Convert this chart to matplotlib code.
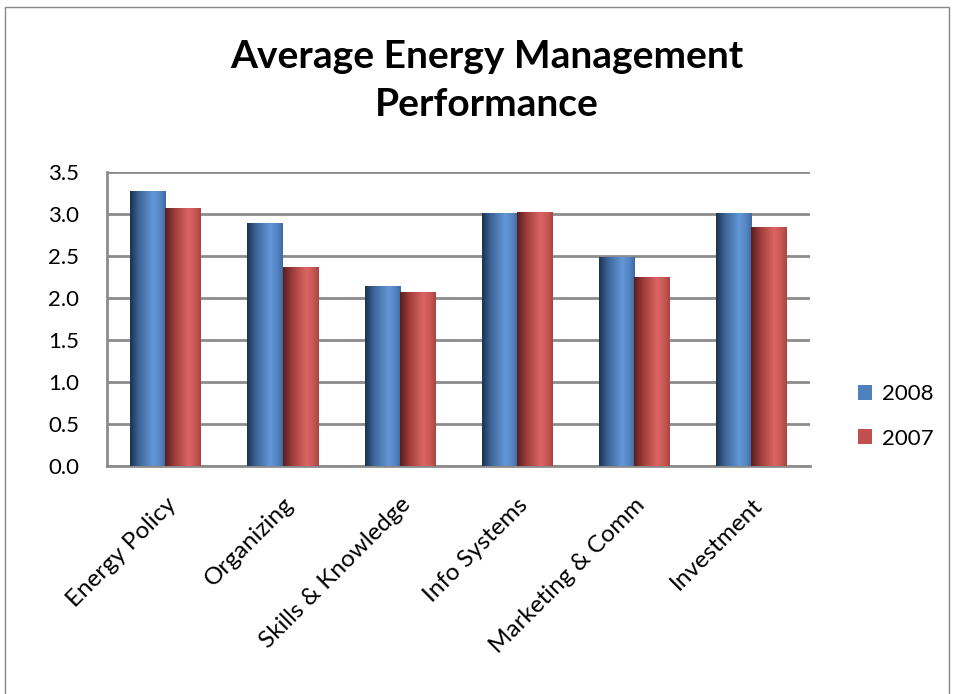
import numpy as np
import matplotlib.pyplot as plt
import matplotlib.transforms as mtransforms
from matplotlib.colors import LinearSegmentedColormap
from matplotlib.patches import Rectangle

categories = ['Energy Policy', 'Organizing', 'Skills & Knowledge',
              'Info Systems', 'Marketing & Comm', 'Investment']
values_2008 = [3.27, 2.89, 2.14, 3.01, 2.49, 3.01]
values_2007 = [3.07, 2.37, 2.07, 3.02, 2.25, 2.85]
yticks = [0.0, 0.5, 1.0, 1.5, 2.0, 2.5, 3.0, 3.5]

plt.rcParams['font.family'] = ['Lato', 'DejaVu Sans']

# cylinder-like shading, dark on the left, light towards the right
blue_cmap = LinearSegmentedColormap.from_list(
    'b', [(0, '#1c3350'), (0.25, '#3d6699'), (0.65, '#6297d6'), (0.85, '#5585c2'), (1, '#3f6aa0')])
red_cmap = LinearSegmentedColormap.from_list(
    'r', [(0, '#5a1e1e'), (0.25, '#9c3c3a'), (0.65, '#db6562'), (0.85, '#c85753'), (1, '#a84643')])

fig = plt.figure(figsize=(9.54, 6.94), dpi=100)
ax = fig.add_axes([0.112, 0.3285, 0.737, 0.4235])

x = np.arange(len(categories))
width = 0.3
grad = np.linspace(0, 1, 64).reshape(1, -1)

def shaded_bars(xs, vals, cmap, color, label):
    bars = ax.bar(xs, vals, width, color=color, label=label, zorder=2)
    for b in bars:
        x0, w, h = b.get_x(), b.get_width(), b.get_height()
        im = ax.imshow(grad, cmap=cmap, aspect='auto', zorder=3,
                       extent=[x0, x0 + w, 0, h], interpolation='bicubic')
        im.set_clip_path(b)
    return bars

shaded_bars(x - width / 2, values_2008, blue_cmap, '#4f81bd', '2008')
shaded_bars(x + width / 2, values_2007, red_cmap, '#c0504d', '2007')

ax.set_xlim(-0.5, len(categories) - 0.5)
ax.set_ylim(0, 3.5)
ax.set_yticks(yticks)
ax.set_yticklabels(['%.1f' % t for t in yticks], fontsize=16)
ax.set_xticks(x)
ax.set_xticklabels(categories, rotation=45, ha='right', va='top',
                   rotation_mode='anchor', fontsize=17.5)
# shift the slanted labels a little to the right, as in the original
offset = mtransforms.ScaledTranslation(0.1, 0, fig.dpi_scale_trans)
for lbl in ax.get_xticklabels():
    lbl.set_transform(lbl.get_transform() + offset)
ax.tick_params(axis='x', length=0, pad=20)
ax.tick_params(axis='y', length=4, color='#888888', direction='in', pad=20)
ax.yaxis.grid(True, color='#8c8c8c', linewidth=2, zorder=0)
ax.set_axisbelow(True)
for s in ['top', 'right']:
    ax.spines[s].set_visible(False)
ax.spines['left'].set_color('#8c8c8c')
ax.spines['left'].set_linewidth(2)
ax.spines['bottom'].set_color('#8c8c8c')
ax.spines['bottom'].set_linewidth(2)

fig.text(0.51, 0.884, 'Average Energy Management\nPerformance', ha='center', va='center',
         fontsize=28, fontweight='bold', linespacing=1.45)

ax.legend(loc='center left', bbox_to_anchor=(0.899, 0.4), bbox_transform=fig.transFigure,
          frameon=False, fontsize=16, borderpad=0, borderaxespad=0,
          handlelength=0.65, handleheight=0.65, labelspacing=1.1, handletextpad=0.45)

# chart area border
fig.patches.append(Rectangle((0.005, -0.01), 0.99, 1.0, transform=fig.transFigure,
                             fill=False, edgecolor='#888888', linewidth=1))

fig.savefig('out.png', dpi=100)
